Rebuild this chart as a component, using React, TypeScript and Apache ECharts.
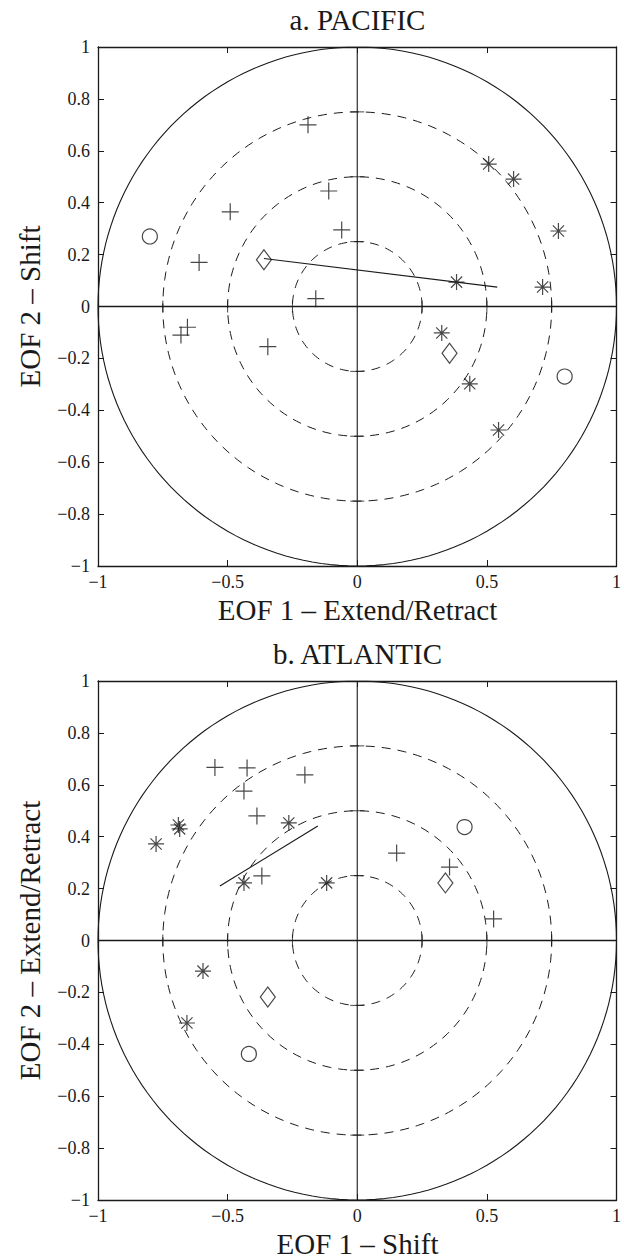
import React, { useEffect, useRef } from "react";
import * as echarts from "echarts";

// ---- data ----
const xTicks = [-1, -0.5, 0, 0.5, 1];
const yTicks = [-1, -0.8, -0.6, -0.4, -0.2, 0, 0.2, 0.4, 0.6, 0.8, 1];
const ringRadii = [0.25, 0.5, 0.75];
const outerRadius = 1;

const pacPlus = [[-0.19, 0.70], [-0.11, 0.445], [-0.49, 0.365], [-0.06, 0.295], [-0.61, 0.17], [-0.16, 0.03], [-0.655, -0.08], [-0.68, -0.11], [-0.345, -0.155]];
const pacStar = [[0.507, 0.549], [0.603, 0.491], [0.776, 0.291], [0.383, 0.094], [0.715, 0.075], [0.326, -0.102], [0.434, -0.298], [0.545, -0.476]];
const pacCircle = [[-0.8, 0.27], [0.8, -0.27]];
const pacDiamond = [[-0.36, 0.18], [0.356, -0.18]];
const pacLine = [[-0.36, 0.185], [0.54, 0.075]];

const atlPlus = [[-0.549, 0.667], [-0.425, 0.665], [-0.202, 0.638], [-0.437, 0.576], [-0.387, 0.48], [-0.368, 0.249], [0.152, 0.337], [0.356, 0.283], [0.526, 0.083]];
const atlStar = [[-0.69, 0.445], [-0.685, 0.43], [-0.776, 0.372], [-0.264, 0.453], [-0.437, 0.222], [-0.118, 0.222], [-0.595, -0.118], [-0.657, -0.318]];
const atlCircle = [[0.414, 0.437], [-0.418, -0.437]];
const atlDiamond = [[0.34, 0.222], [-0.345, -0.218]];
const atlLine = [[-0.53, 0.21], [-0.152, 0.441]];

const panels = [
  { title: "a. PACIFIC", xName: "EOF 1 \u2013 Extend/Retract", yName: "EOF 2 \u2013 Shift", plus: pacPlus, star: pacStar, circle: pacCircle, diamond: pacDiamond, line: pacLine },
  { title: "b. ATLANTIC", xName: "EOF 1 \u2013 Shift", yName: "EOF 2 \u2013 Extend/Retract", plus: atlPlus, star: atlStar, circle: atlCircle, diamond: atlDiamond, line: atlLine },
];

const FONT = "Liberation Serif";
const INK = "#1a1a1a";
const GRID_LEFT = 98;
const GRID_SIZE = 519;
const GRID_TOPS = [47, 681];

function ring(r: number) {
  const pts: number[][] = [];
  for (let i = 0; i <= 360; i += 2) {
    const a = (i * Math.PI) / 180;
    pts.push([r * Math.cos(a), r * Math.sin(a)]);
  }
  return pts;
}

function fmt(v: number) {
  const r = Math.round(v * 10) / 10;
  return String(r).replace("-", "\u2212");
}

const PLUS = "path://M0,5L10,5M5,0L5,10";
const STAR = "path://M0,5L10,5M5,0L5,10M1.5,1.5L8.5,8.5M1.5,8.5L8.5,1.5";

export default function App() {
  const ref = useRef<HTMLDivElement>(null);
  useEffect(() => {
    if (!ref.current) return;
    const chart = echarts.init(ref.current, null, { renderer: "svg" });

    const grids: any[] = [];
    const xAxes: any[] = [];
    const yAxes: any[] = [];
    const series: any[] = [];
    const graphic: any[] = [];

    panels.forEach((p, i) => {
      const top = GRID_TOPS[i];
      grids.push({ left: GRID_LEFT, top, width: GRID_SIZE, height: GRID_SIZE });
      const axisCommon = {
        type: "value",
        min: -1,
        max: 1,
        gridIndex: i,
        splitLine: { show: false },
        axisLine: { show: true, onZero: false, lineStyle: { color: INK, width: 1.3 } },
        axisTick: { show: true, inside: true, length: 6, lineStyle: { color: INK, width: 1 } },
      };
      const xi = xAxes.length;
      xAxes.push({
        ...axisCommon,
        position: "bottom",
        interval: 0.5,
        axisLabel: { formatter: fmt, fontFamily: FONT, fontSize: 18, color: INK, margin: 7 },
      });
      xAxes.push({ ...axisCommon, position: "top", interval: 0.5, axisLabel: { show: false } });
      const yi = yAxes.length;
      yAxes.push({
        ...axisCommon,
        position: "left",
        interval: 0.2,
        axisLabel: { formatter: fmt, fontFamily: FONT, fontSize: 18, color: INK, margin: 8 },
      });
      yAxes.push({ ...axisCommon, position: "right", interval: 0.2, axisLabel: { show: false } });

      const base = { xAxisIndex: xi, yAxisIndex: yi, silent: true };
      series.push({ ...base, type: "line", data: ring(outerRadius), showSymbol: false, lineStyle: { color: INK, width: 1.1 } });
      ringRadii.forEach((r) => {
        series.push({ ...base, type: "line", data: ring(r), showSymbol: false, lineStyle: { color: INK, width: 1, type: [9, 7] } });
      });
      series.push({ ...base, type: "line", data: [[0, -1], [0, 1]], showSymbol: false, lineStyle: { color: INK, width: 1.1 } });
      series.push({ ...base, type: "line", data: [[-1, 0], [1, 0]], showSymbol: false, lineStyle: { color: INK, width: 1.7 } });
      const hTicks: number[][] = [];
      const vTicks: number[][] = [];
      ringRadii.forEach((r) => {
        hTicks.push([0, r], [0, -r]);
        vTicks.push([r, 0], [-r, 0]);
      });
      series.push({ ...base, type: "scatter", data: hTicks, symbol: "rect", symbolSize: [14, 1], itemStyle: { color: INK } });
      series.push({ ...base, type: "scatter", data: vTicks, symbol: "rect", symbolSize: [1, 12], itemStyle: { color: INK } });
      series.push({ ...base, type: "line", data: p.line, showSymbol: false, lineStyle: { color: INK, width: 1.2 } });
      series.push({ ...base, type: "scatter", data: p.plus, symbol: PLUS, symbolSize: 17, itemStyle: { color: "none", borderColor: INK, borderWidth: 1.2 } });
      series.push({ ...base, type: "scatter", data: p.star, symbol: STAR, symbolSize: 16, itemStyle: { color: "none", borderColor: INK, borderWidth: 1.2 } });
      series.push({ ...base, type: "scatter", data: p.circle, symbol: "circle", symbolSize: 15, itemStyle: { color: "none", borderColor: INK, borderWidth: 1.2 } });
      series.push({ ...base, type: "scatter", data: p.diamond, symbol: "diamond", symbolSize: [15, 20], itemStyle: { color: "none", borderColor: INK, borderWidth: 1.2 } });

      const cx = GRID_LEFT + GRID_SIZE / 2;
      const cy = top + GRID_SIZE / 2;
      graphic.push({ type: "text", x: cx, y: top - 27, style: { text: p.title, fontFamily: FONT, fontSize: 29, fill: INK, align: "center", verticalAlign: "middle" } });
      graphic.push({ type: "text", x: cx, y: top + GRID_SIZE + 44, style: { text: p.xName, fontFamily: FONT, fontSize: 29, fill: INK, align: "center", verticalAlign: "middle" } });
      graphic.push({ type: "text", x: 30, y: cy, rotation: Math.PI / 2, style: { text: p.yName, fontFamily: FONT, fontSize: 29, fill: INK, align: "center", verticalAlign: "middle" } });
    });

    chart.setOption({
      animation: false,
      backgroundColor: "#ffffff",
      grid: grids,
      xAxis: xAxes,
      yAxis: yAxes,
      series,
      graphic,
    });
    return () => chart.dispose();
  }, []);
  return <div ref={ref} style={{ position: "fixed", left: 0, top: 0, width: 624, height: 1260 }} />;
}
